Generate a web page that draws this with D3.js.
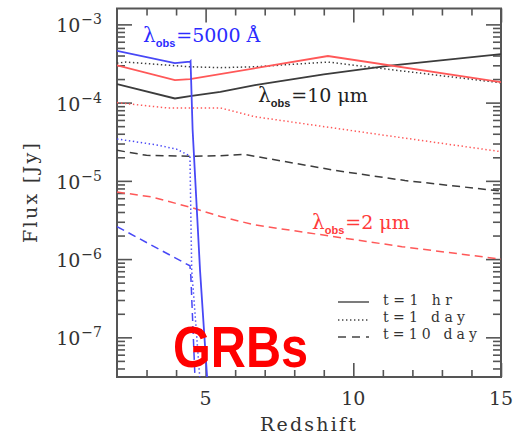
<!DOCTYPE html>
<html>
<head>
<meta charset="utf-8">
<script src="https://cdn.jsdelivr.net/npm/d3@7"></script>
<style>
    body { margin: 0; background: #fff; }
    svg { display: block; }
</style>
</head>
<body>
<div id="chart"></div>
<script>
// values: [redshift, flux (Jy)]
// optical, 5000 A
const opt1hr = [[2, 4.6e-4], [3.96, 3.2e-4], [4.47, 3.33e-4], [4.49, 3.4e-4], [4.56, 4.5e-5], [4.81, 7.3e-7], [5.1, 1.6e-8]];
const opt1day = [[2, 3.43e-5], [3.34, 2.88e-5], [4.02, 2.54e-5], [4.47, 2.08e-5], [4.53, 7.3e-7], [4.84, 2e-8]];
const opt10day = [[2, 2.6e-6], [4.47, 8.2e-7], [4.5, 6e-7], [4.66, 2e-8]];
// near IR, 2 micron
const nir1hr = [[2, 3.0e-4], [3.96, 1.94e-4], [4.47, 2.0e-4], [9.14, 3.94e-4], [15, 1.83e-4]];
const nir1day = [[2, 1.0e-4], [3.7, 8.55e-5], [5.5, 8.55e-5], [6.67, 6.6e-5], [10.84, 3.93e-5], [15, 2.36e-5]];
const nir10day = [[2, 7.2e-6], [3.2, 6.2e-6], [4.57, 4.5e-6], [5.5, 3.5e-6], [6.67, 2.73e-6], [11.65, 1.44e-6], [15, 1.0e-6]];
// mid IR, 10 micron
const mir1hr = [[2, 1.72e-4], [3.96, 1.13e-4], [4.47, 1.21e-4], [5.5, 1.37e-4], [6.67, 1.67e-4], [9.0, 2.3e-4], [11.17, 2.95e-4], [15, 4.17e-4]];
const mir1day = [[2, 3.2e-4], [2.3, 3.3e-4], [4.47, 2.87e-4], [5.5, 2.8e-4], [6.67, 2.87e-4], [9.14, 3.3e-4], [15, 1.79e-4]];
const mir10day = [[2, 2.46e-5], [3, 2.12e-5], [4.5, 2.06e-5], [5.5, 2.1e-5], [6.3, 2.18e-5], [8, 1.68e-5], [9.38, 1.36e-5], [11.75, 1.01e-5], [15, 7.4e-6]];

const xMajorTicks = [5, 10, 15];
const xMinorTicks = [3, 4, 6, 7, 8, 9, 11, 12, 13, 14];
const yDecades = [-7, -6, -5, -4, -3];
const legendLabels = ['t=1 hr', 't=1 day', 't=10 day'];

const width = 515;
const height = 435;
const margins = { top: 8.5, right: 14, bottom: 58, left: 117 };
const innerW = width - margins.left - margins.right;
const innerH = height - margins.top - margins.bottom;

const colors = { blue: '#4848f6', red: '#ff5858', black: '#3c3c3c' };
const dashes = { solid: null, dotted: '1.4,2.6', dashed: '8,5' };

const series = [
    { data: mir10day, color: colors.black, dash: dashes.dashed },
    { data: mir1day, color: colors.black, dash: dashes.dotted },
    { data: mir1hr, color: colors.black, dash: dashes.solid },
    { data: nir10day, color: colors.red, dash: dashes.dashed },
    { data: nir1day, color: colors.red, dash: dashes.dotted },
    { data: nir1hr, color: colors.red, dash: dashes.solid },
    { data: opt10day, color: colors.blue, dash: dashes.dashed },
    { data: opt1day, color: colors.blue, dash: dashes.dotted },
    { data: opt1hr, color: colors.blue, dash: dashes.solid }
];

const svg = d3.select('#chart')
    .append('svg')
    .attr('width', width)
    .attr('height', height);

svg.append('rect')
    .attr('width', width)
    .attr('height', height)
    .attr('fill', '#fff');

const g = svg.append('g')
    .attr('transform', `translate(${margins.left},${margins.top})`);

//scales
const x = d3.scaleLinear().domain([2, 15]).range([0, innerW]);
const y = d3.scaleLog().domain([10 ** -7.507, 10 ** -2.797]).range([innerH, 0]);

//clip
svg.append('defs').append('clipPath')
    .attr('id', 'plot-clip')
    .append('rect')
    .attr('width', innerW)
    .attr('height', innerH);

//ticks, all pointing inward
function ticks(axis, values, size, transform) {
    g.append('g')
        .attr('transform', transform)
        .call(axis.tickValues(values).tickSize(-size).tickSizeOuter(0).tickFormat(''))
        .call(s => s.select('.domain').remove())
        .selectAll('line')
        .attr('stroke', '#555')
        .attr('stroke-width', 1.6);
}

const yMinor = [];
d3.range(-8, -2).forEach(d => {
    d3.range(2, 10).forEach(k => {
        const v = k * 10 ** d;
        if (v > y.domain()[0] && v < y.domain()[1]) yMinor.push(v);
    });
});
const yMajor = yDecades.map(d => 10 ** d);

ticks(d3.axisBottom(x), xMajorTicks, 14, `translate(0,${innerH})`);
ticks(d3.axisBottom(x), xMinorTicks, 7, `translate(0,${innerH})`);
ticks(d3.axisTop(x), xMajorTicks, 14, 'translate(0,0)');
ticks(d3.axisTop(x), xMinorTicks, 7, 'translate(0,0)');
ticks(d3.axisLeft(y), yMajor, 15, 'translate(0,0)');
ticks(d3.axisLeft(y), yMinor, 8, 'translate(0,0)');
ticks(d3.axisRight(y), yMajor, 15, `translate(${innerW},0)`);
ticks(d3.axisRight(y), yMinor, 8, `translate(${innerW},0)`);

//frame
g.append('rect')
    .attr('width', innerW)
    .attr('height', innerH)
    .attr('fill', 'none')
    .attr('stroke', '#555')
    .attr('stroke-width', 2);

//tick labels
const labelFont = 'DejaVu Serif';
g.append('g')
    .selectAll('text')
    .data(xMajorTicks)
    .join('text')
    .attr('x', d => x(d))
    .attr('y', innerH + 28)
    .attr('text-anchor', 'middle')
    .attr('font-family', labelFont)
    .attr('font-size', 19)
    .attr('fill', '#333')
    .text(d => d);

const yLabels = g.append('g')
    .selectAll('text')
    .data(yDecades)
    .join('text')
    .attr('x', -15)
    .attr('y', d => y(10 ** d) + 8)
    .attr('text-anchor', 'end')
    .attr('font-family', labelFont)
    .attr('font-size', 19)
    .attr('fill', '#333');
yLabels.append('tspan').text('10');
yLabels.append('tspan')
    .attr('dy', -8)
    .attr('dx', 1)
    .attr('font-size', 14)
    .text(d => '\u2212' + Math.abs(d));

//axis titles
svg.append('text')
    .attr('x', 308)
    .attr('y', 431)
    .attr('text-anchor', 'middle')
    .attr('font-family', labelFont)
    .attr('font-size', 19)
    .attr('fill', '#333')
    .attr('textLength', 96)
    .attr('lengthAdjust', 'spacing')
    .text('Redshift');

svg.append('text')
    .attr('transform', 'translate(37,193) rotate(-90)')
    .attr('text-anchor', 'middle')
    .attr('font-family', labelFont)
    .attr('font-size', 19)
    .attr('fill', '#333')
    .attr('textLength', 100)
    .attr('lengthAdjust', 'spacing')
    .text('Flux [Jy]');

//curves
const line = d3.line()
    .x(d => x(d[0]))
    .y(d => y(d[1]));

g.append('g')
    .attr('clip-path', 'url(#plot-clip)')
    .selectAll('path')
    .data(series)
    .join('path')
    .attr('d', d => line(d.data))
    .attr('fill', 'none')
    .attr('stroke', d => d.color)
    .attr('stroke-width', d => d.dash ? 1.5 : 1.8)
    .attr('stroke-dasharray', d => d.dash);

//band labels
function bandLabel(px, py, color, rest) {
    const t = svg.append('text')
        .attr('x', px)
        .attr('y', py)
        .attr('font-family', labelFont)
        .attr('font-size', 19)
        .attr('fill', color);
    t.append('tspan').attr('font-size', 20).text('\u03bb');
    t.append('tspan')
        .attr('dy', 5)
        .attr('font-family', 'Liberation Sans')
        .attr('font-weight', 'bold')
        .attr('font-size', 11)
        .text('obs');
    t.append('tspan').attr('dy', -5).attr('dx', 1).text(rest);
}
bandLabel(143, 42, '#2b2bff', '=5000 \u00c5');
bandLabel(258, 102, '#222', '=10 \u03bcm');
bandLabel(312, 229, '#ff3a3a', '=2 \u03bcm');

//legend
const legend = svg.append('g');
const legendRows = legendLabels.map((label, i) => ({
    label,
    dash: [dashes.solid, dashes.dotted, '8,6'][i],
    ly: [302, 320, 337][i],
    ty: [305, 322, 339][i]
}));
legend.selectAll('line')
    .data(legendRows)
    .join('line')
    .attr('x1', 338)
    .attr('x2', 369)
    .attr('y1', d => d.ly)
    .attr('y2', d => d.ly)
    .attr('stroke', '#444')
    .attr('stroke-width', 1.4)
    .attr('stroke-dasharray', d => d.dash);
legend.selectAll('text')
    .data(legendRows)
    .join('text')
    .attr('x', 383)
    .attr('y', d => d.ty)
    .attr('font-family', labelFont)
    .attr('font-size', 14)
    .attr('fill', '#333')
    .attr('textLength', (d, i) => [69, 82, 94][i])
    .attr('lengthAdjust', 'spacing')
    .text(d => d.label);

//overlay label
svg.append('text')
    .attr('x', 173)
    .attr('y', 367)
    .attr('font-family', 'Liberation Sans')
    .attr('font-weight', 'bold')
    .attr('font-size', 58)
    .attr('fill', '#ff0000')
    .attr('textLength', 135)
    .attr('lengthAdjust', 'spacingAndGlyphs')
    .text('GRBs');
</script>
</body>
</html>
